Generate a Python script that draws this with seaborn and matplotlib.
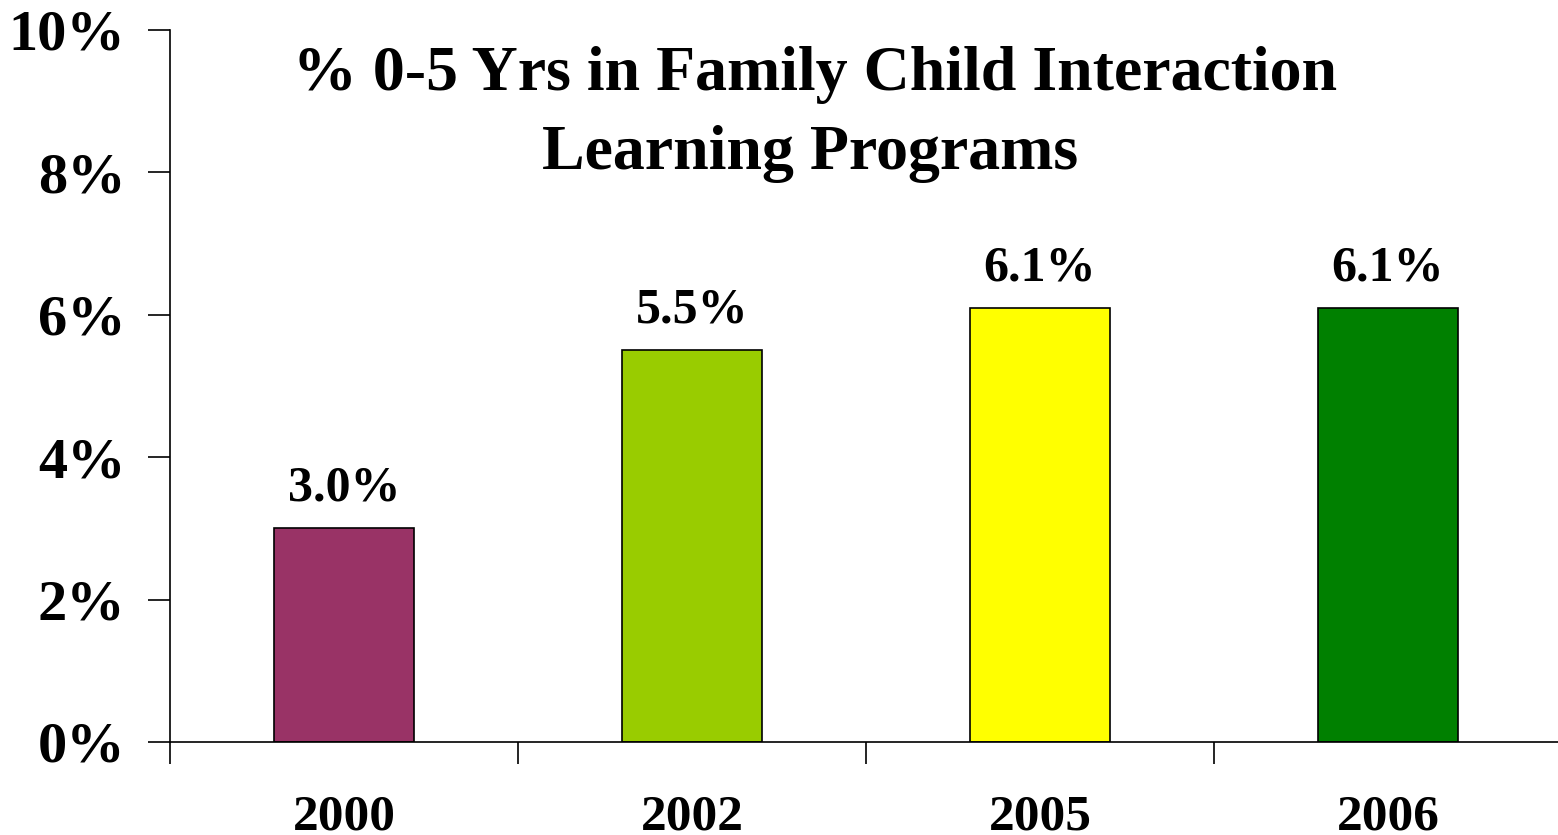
import matplotlib
matplotlib.use("Agg")
import matplotlib.pyplot as plt
import seaborn as sns
from matplotlib.ticker import FixedLocator, FuncFormatter

years = ["2000", "2002", "2005", "2006"]
shares = [3.0, 5.5, 6.1, 6.1]
bar_colors = ["#993366", "#99CC00", "#FFFF00", "#008000"]
title_lines = ["% 0-5 Yrs in Family Child Interaction", "Learning Programs"]


def main():
    sns.set_theme(style="white")
    plt.rcParams["font.family"] = ["Liberation Serif", "DejaVu Serif"]
    plt.rcParams["font.weight"] = "bold"
    plt.rcParams["text.color"] = "black"
    plt.rcParams["xtick.color"] = "black"
    plt.rcParams["ytick.color"] = "black"

    fig = plt.figure(figsize=(15.58, 8.35), dpi=100)
    ax = fig.add_axes([170 / 1558, 93 / 835, 1392 / 1558, 712 / 835])

    sns.barplot(x=years, y=shares, hue=years, palette=bar_colors, saturation=1,
                width=0.405, edgecolor="black", linewidth=1.2, legend=False, ax=ax)

    ax.set_xlim(-0.5, 3.5)
    ax.set_ylim(0, 10)
    ax.set_yticks([0, 2, 4, 6, 8, 10])
    ax.yaxis.set_major_formatter(FuncFormatter(lambda v, _: f"{v:.0f}%"))
    ax.tick_params(axis="y", direction="out", length=16, width=1.2, color="black",
                   labelcolor="black", labelsize=42, pad=16, left=True)
    ax.tick_params(axis="x", which="major", length=0, labelsize=37, pad=38,
                   labelcolor="black")
    ax.xaxis.set_minor_locator(FixedLocator([-0.5, 0.5, 1.5, 2.5]))
    ax.tick_params(axis="x", which="minor", direction="out", length=16, width=1.2,
                   color="black", bottom=True)
    for lbl in ax.get_xticklabels() + ax.get_yticklabels():
        lbl.set_fontweight("bold")

    for side in ["top", "right"]:
        ax.spines[side].set_visible(False)
    for side in ["left", "bottom"]:
        ax.spines[side].set_color("black")
        ax.spines[side].set_linewidth(1.2)

    for i, v in enumerate(shares):
        ax.annotate(f"{v:.1f}%", (i, v), xytext=(0, 12), textcoords="offset points",
                    ha="center", va="bottom", fontsize=36, fontweight="bold",
                    color="black")

    fig.text(815 / 1558, 1 - 75 / 835, title_lines[0], ha="center", va="center",
             fontsize=46, fontweight="bold", color="black")
    fig.text(810 / 1558, 1 - 154 / 835, title_lines[1], ha="center", va="center",
             fontsize=46, fontweight="bold", color="black")

    fig.savefig("out.png", dpi=100)
    plt.close(fig)


if __name__ == "__main__":
    main()
